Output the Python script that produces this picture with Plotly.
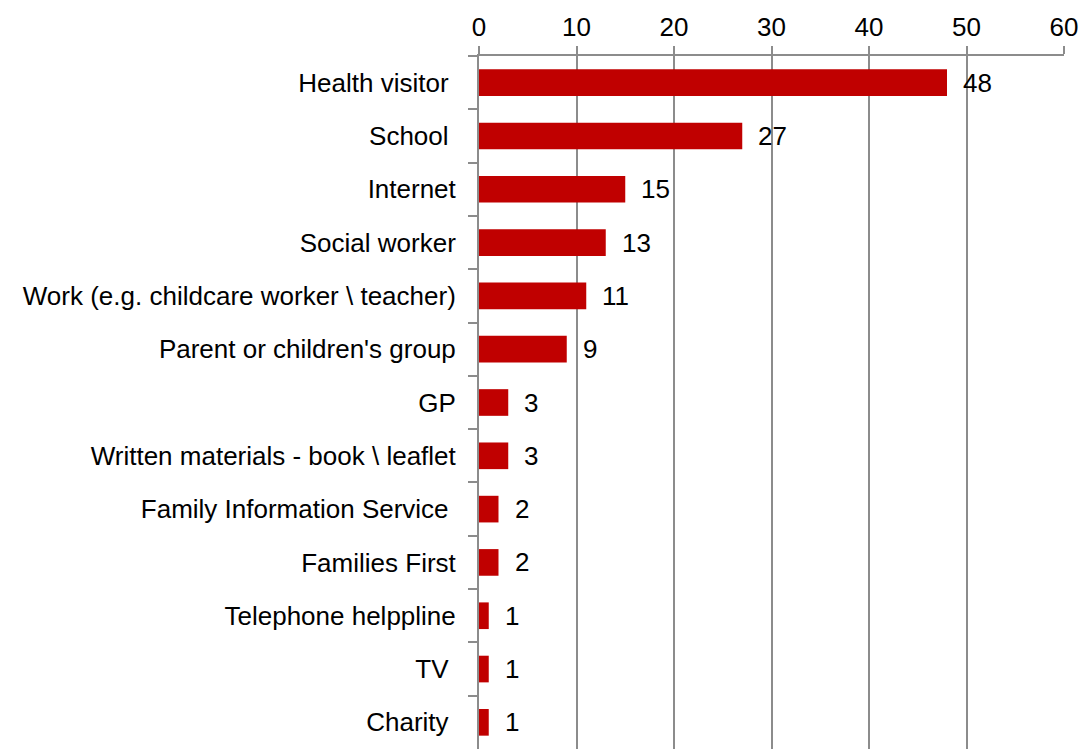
import plotly.graph_objects as go

# Sources of information, number of respondents
categories = [
    "Health visitor\u00a0",
    "School\u00a0",
    "Internet",
    "Social worker",
    "Work (e.g. childcare worker \\ teacher)",
    "Parent or children's group",
    "GP",
    "Written materials - book \\ leaflet",
    "Family Information Service\u00a0",
    "Families First",
    "Telephone helppline",
    "TV\u00a0",
    "Charity\u00a0",
]
values = [48, 27, 15, 13, 11, 9, 3, 3, 2, 2, 1, 1, 1]
x_ticks = [0, 10, 20, 30, 40, 50, 60]

bar_color = "#C00000"
grid_color = "#8C8C8C"
font_family = "Liberation Sans, Arial, sans-serif"
font_size = 26

fig = go.Figure(
    go.Bar(
        x=values,
        y=categories,
        orientation="h",
        marker=dict(color=bar_color, line=dict(width=0)),
        hoverinfo="skip",
    )
)

# value labels just past the end of each bar
for cat, val in zip(categories, values):
    fig.add_annotation(
        x=val, y=cat, text=str(val), showarrow=False,
        xanchor="left", yanchor="middle", xshift=14,
        font=dict(size=font_size, color="black", family=font_family),
    )

fig.update_layout(
    width=1084, height=749,
    margin=dict(l=479, r=20, t=56, b=0),
    paper_bgcolor="white", plot_bgcolor="white",
    bargap=0.5,
    showlegend=False,
    font=dict(family=font_family, size=font_size, color="black"),
)

fig.update_xaxes(
    side="top",
    range=[0, 60],
    tickvals=x_ticks,
    ticktext=[str(t) for t in x_ticks],
    showgrid=True, gridcolor=grid_color, gridwidth=2,
    showline=True, linecolor=grid_color, linewidth=2,
    ticks="outside", ticklen=8, tickwidth=2, tickcolor=grid_color,
    zeroline=False,
    tickfont=dict(size=font_size, color="black"),
    fixedrange=True,
)

fig.update_yaxes(
    categoryorder="array", categoryarray=categories,
    autorange="reversed",
    showgrid=False,
    showline=True, linecolor=grid_color, linewidth=2,
    ticks="outside", ticklen=9, tickwidth=2, tickcolor=grid_color,
    tickson="boundaries",
    tickfont=dict(size=font_size, color="black"),
    ticklabelstandoff=16,
    fixedrange=True,
)

fig.write_html("out.html")
